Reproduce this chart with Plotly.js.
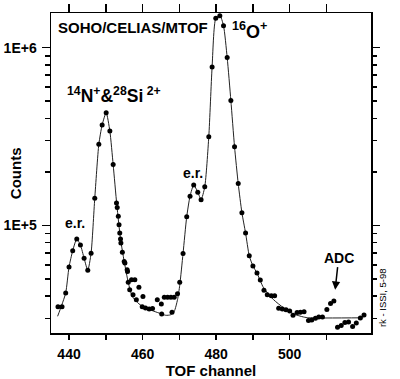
<!DOCTYPE html>
<html>
<head>
<meta charset="utf-8">
<script src="https://cdn.plot.ly/plotly-3.0.1.min.js"></script>
<style>html,body{margin:0;padding:0;background:#fff;}#chart{width:400px;height:379px;}</style>
</head>
<body>
<div id="chart"></div>
<script>
// Measured points (TOF channel, counts)
const dotChannel = [437.0,438.1,439.1,440.0,441.0,442.1,443.1,444.1,445.1,446.0,
  447.0,448.1,449.0,450.1,451.1,452.0,452.9,453.1,453.4,453.6,453.8,454.0,454.1,454.5,
  455.0,455.2,455.8,455.9,456.1,456.5,457.0,457.4,457.9,458.3,459.0,459.9,460.1,460.8,
  461.8,462.7,464.0,465.1,465.2,465.9,466.8,467.7,468.0,468.6,469.5,470.1,471.0,472.0,
  472.9,473.9,475.0,475.9,476.9,478.0,478.9,479.9,481.0,482.0,483.0,484.0,485.0,486.0,
  487.0,488.0,489.0,490.0,491.1,492.0,493.0,493.9,495.0,495.9,497.0,498.0,499.0,500.0,
  500.9,502.0,502.9,503.9,505.1,506.0,507.0,507.9,508.9,510.1,511.1,512.0,513.0,514.0,
  515.0,516.0,517.1,518.1,519.2,520.2];
const dotCounts = [34800,34800,41700,58300,72000,83800,77600,65300,55900,69800,
  142200,285700,367000,430600,339500,219800,133600,125900,112400,100900,90600,83800,79600,70500,
  62700,61400,56300,55100,47800,43500,49500,40700,49500,38200,44800,34800,39800,34300,
  33900,34100,38200,36100,31700,39400,39400,39400,32500,39400,41300,47800,69500,111900,
  145900,168700,153800,139600,164800,315300,778000,1462000,1510000,1330000,880000,505000,276700,171800,
  117900,90600,67500,59100,53900,49300,43100,40700,40200,40200,34200,33900,33500,33000,
  31200,32300,32500,32700,29200,29400,30000,30500,30500,33600,36400,37600,26700,27300,
  28400,28600,27000,28200,30100,31300];

// Fitted curve
const fitChannel = [436.9,438.0,439.1,440.0,441.0,442.1,443.1,444.1,445.1,446.0,447.0,
  448.1,449.0,450.1,451.1,452.0,453.0,454.0,455.0,456.1,457.2,459.0,460.8,462.7,464.5,
  466.3,467.6,468.6,469.5,470.1,471.0,472.0,472.9,473.9,475.0,475.9,476.9,478.0,478.9,
  479.9,481.0,482.0,483.0,484.0,485.0,486.0,487.0,488.0,489.0,490.0,491.1,492.9,495.6,
  498.4,501.1,503.8,505.2,520.0];
const fitCounts = [30800,35500,41700,58300,72000,83800,77600,65300,55900,69800,142200,
  285700,367000,430600,339500,219800,130000,83800,62700,47800,39800,36200,34300,33100,32100,
  31200,31400,32800,38200,46000,69500,111900,145900,168700,153800,139600,164800,315300,778000,
  1462000,1520000,1330000,880000,505000,276700,171800,117900,90600,67500,59100,53900,44500,38200,
  34300,31700,30500,30200,30200];

const xLabelVals = [440,460,480,500];
const xMinorVals = [450,470,490,510];
const xAllTickVals = [440,450,460,470,480,490,500,510];
const yTickVals = [1e5,1e6];
const yTickText = ['1E+5','1E+6'];
const yMinorVals = [3e4,4e4,5e4,6e4,7e4,8e4,9e4,2e5,3e5,4e5,5e5,6e5,7e5,8e5,9e5];

const FONT = 'Liberation Sans, Arial, Helvetica, sans-serif';
const xRange = [435.1, 522.1];
const yRange = [4.3945, 6.195];

const traces = [
  {type:'scatter', mode:'lines', x:fitChannel, y:fitCounts,
   line:{color:'#222', width:1, shape:'spline', smoothing:0.6},
   showlegend:false, hoverinfo:'skip'},
  {type:'scatter', mode:'markers', x:dotChannel, y:dotCounts,
   marker:{color:'#000', size:5}, showlegend:false},
  {type:'scatter', mode:'markers', x:[], y:[], xaxis:'x2', yaxis:'y2',
   showlegend:false, hoverinfo:'skip'}
];

const tickBase = {ticks:'outside', tickwidth:1.5, tickcolor:'#000', showgrid:false, zeroline:false};
const yMinor = {tickmode:'array', tickvals:yMinorVals, ticks:'outside', ticklen:5, tickwidth:1.5, tickcolor:'#000', showgrid:false};

const layout = {
  width:400, height:379,
  margin:{l:51, r:29, t:13, b:46, pad:0},
  paper_bgcolor:'#fff', plot_bgcolor:'#fff',
  font:{family:FONT, color:'#000'},
  showlegend:false,
  xaxis: Object.assign({}, tickBase, {
    range:xRange, tickmode:'array', tickvals:xLabelVals, ticklen:5,
    minor:{tickmode:'array', tickvals:xMinorVals, ticks:'outside', ticklen:5, tickwidth:1.5, tickcolor:'#000', showgrid:false},
    showline:true, linewidth:1.5, linecolor:'#000', mirror:true,
    tickfont:{family:FONT, size:14, color:'#000', weight:'bold'}, ticklabelstandoff:3,
    title:{text:'TOF channel', font:{family:FONT, size:15, color:'#000', weight:'bold'}, standoff:4}
  }),
  yaxis: Object.assign({}, tickBase, {
    type:'log', range:yRange, tickmode:'array', tickvals:yTickVals, ticktext:yTickText, ticklen:8,
    minor:yMinor,
    showline:true, linewidth:1.5, linecolor:'#000', mirror:true,
    tickfont:{family:FONT, size:14, color:'#000', weight:'bold'}, ticklabelstandoff:2
  }),
  xaxis2: Object.assign({}, tickBase, {
    overlaying:'x', side:'top', anchor:'y2', range:xRange, tickmode:'array', tickvals:xAllTickVals,
    ticklen:8, showticklabels:false, showline:false
  }),
  yaxis2: Object.assign({}, tickBase, {
    overlaying:'y', side:'right', anchor:'x2', type:'log', range:yRange, tickmode:'array',
    tickvals:yTickVals, ticklen:8, showticklabels:false, showline:false,
    minor:yMinor
  }),
  annotations:[
    {xref:'paper', yref:'paper', x:-0.112, y:0.5, text:'Counts', textangle:-90, showarrow:false,
     xanchor:'center', yanchor:'middle', font:{family:FONT, size:15, color:'#000', weight:'bold'}},
    {xref:'paper', yref:'paper', x:0.0166, y:0.954, text:'SOHO/CELIAS/MTOF', showarrow:false,
     xanchor:'left', yanchor:'middle', font:{family:FONT, size:15, color:'#000', weight:'bold'}},
    {xref:'paper', yref:'paper', x:0.0447, y:0.745, text:'<sup>14</sup>N<sup>+</sup>&<sup>28</sup>Si<sup> 2+</sup>', showarrow:false,
     xanchor:'left', yanchor:'middle', font:{family:FONT, size:17.5, color:'#000', weight:'bold'}},
    {xref:'paper', yref:'paper', x:0.558, y:0.944, text:'<sup>16</sup>O<sup>+</sup>', showarrow:false,
     xanchor:'left', yanchor:'middle', font:{family:FONT, size:18, color:'#000', weight:'bold'}},
    {xref:'paper', yref:'paper', x:0.0744, y:0.3447, text:'e.r.', showarrow:false,
     xanchor:'center', yanchor:'middle', font:{family:FONT, size:14, color:'#000', weight:'bold'}},
    {xref:'paper', yref:'paper', x:0.4441, y:0.501, text:'e.r.', showarrow:false,
     xanchor:'center', yanchor:'middle', font:{family:FONT, size:14, color:'#000', weight:'bold'}},
    {xref:'paper', yref:'paper', x:0.888, y:0.1353, text:'ADC', showarrow:true, ax:3.5, ay:-32,
     arrowhead:2, arrowsize:1.1, arrowwidth:1.5, arrowcolor:'#000',
     font:{family:FONT, size:14, color:'#000', weight:'bold'}},
    {xref:'paper', yref:'paper', x:1.0384, y:0.110, text:'rk - ISSI, 5-98', textangle:-90, showarrow:false,
     xanchor:'center', yanchor:'middle', font:{family:FONT, size:9.5, color:'#000'}}
  ]
};

Plotly.newPlot('chart', traces, layout, {displayModeBar:false, staticPlot:true});
</script>
</body>
</html>
